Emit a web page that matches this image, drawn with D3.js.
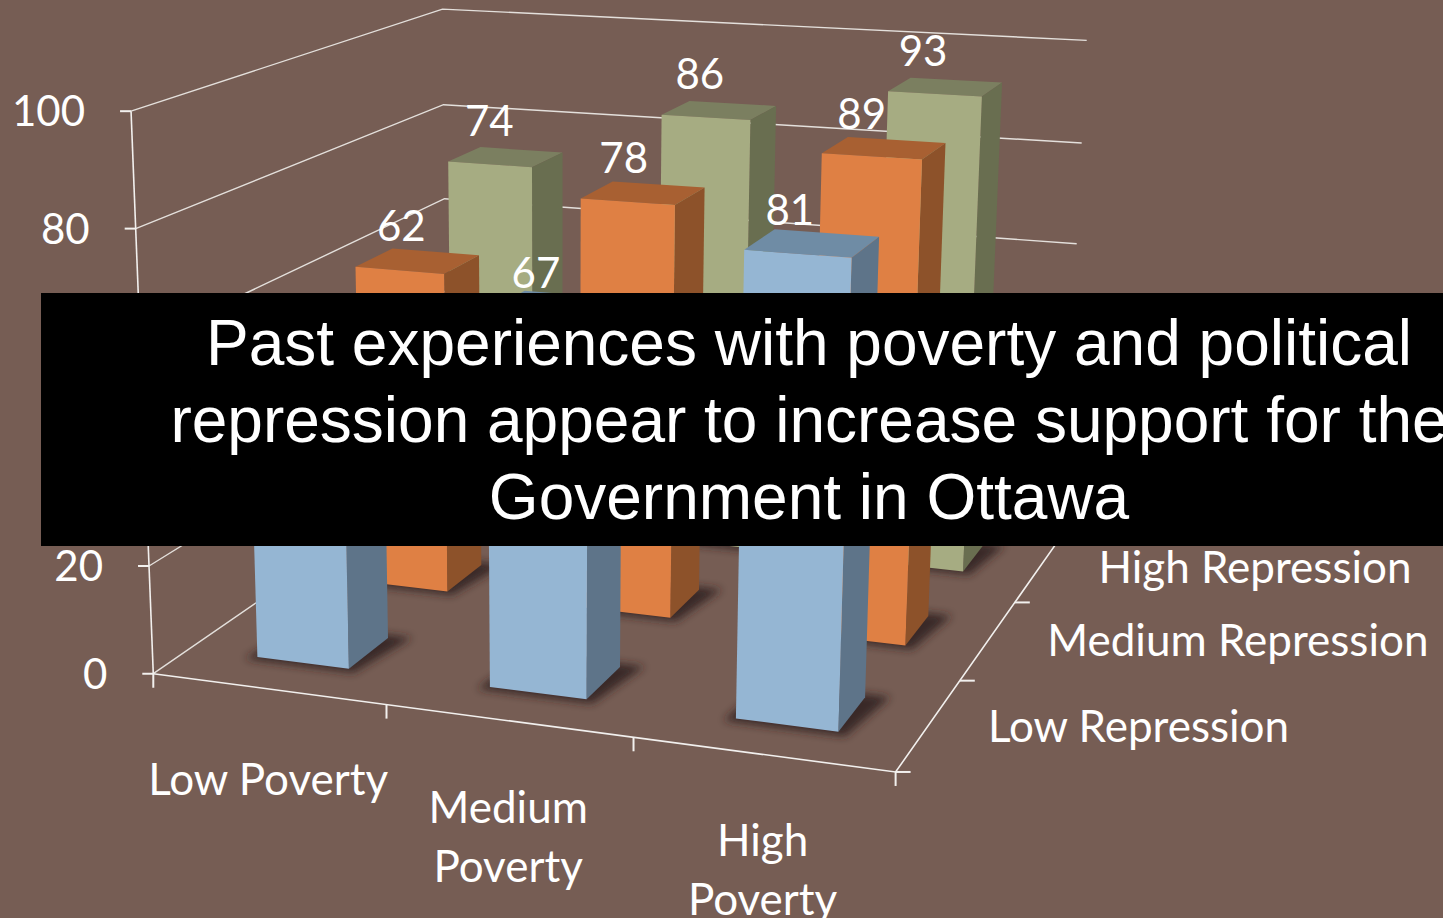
<!DOCTYPE html>
<html><head><meta charset="utf-8">
<script src="https://cdnjs.cloudflare.com/ajax/libs/d3/7.8.5/d3.min.js"></script>
<style>html,body{margin:0;padding:0;background:#765D54;overflow:hidden}svg{display:block}</style>
</head><body><svg id="c" width="1443" height="918"></svg>
<script>
const povertyLabels = ["Low Poverty","Medium Poverty","High Poverty"];
const repressionLabels = ["Low Repression","Medium Repression","High Repression"];
const lowRepression = [47,67,81];
const mediumRepression = [62,78,89];
const highRepression = [74,86,93];
const valueTicks = [0,20,40,60,80,100];
const titleLines = ["Past experiences with poverty and political","repression appear to increase support for the","Government in Ottawa"];

const W=1443,H=918;
const svg=d3.select("#c");
const seriesColors=[
 {front:"#95B6D3",side:"#5E7489",top:"#6F8CA5"},
 {front:"#DF8044",side:"#8D522A",top:"#A86032"},
 {front:"#A6AC82",side:"#696E50",top:"#7B7F60"}];

// perspective camera fitted to the chart box corners
const anchors=[[0,0,0,153,672],[1,0,0,897,772],[0,1,0,447,472],[1,1,0,1062,535],[0,0,1,130,113],[0,1,1,444,8],[1,1,1,1086,40]];
function solve(A,b){const n=b.length;const M=A.map((r,i)=>[...r,b[i]]);
 for(let i=0;i<n;i++){let p=i;for(let k=i+1;k<n;k++)if(Math.abs(M[k][i])>Math.abs(M[p][i]))p=k;[M[i],M[p]]=[M[p],M[i]];
  for(let k=0;k<n;k++){if(k===i)continue;const f=M[k][i]/M[i][i];for(let j=i;j<=n;j++)M[k][j]-=f*M[i][j];}}
 return M.map((r,i)=>r[n]/r[i]);}
const rows=[],rhs=[];
anchors.forEach(([x,y,z,sx,sy])=>{const a=sx/1000,c=sy/1000;
 rows.push([x,y,z,1,0,0,0,0,-a*x,-a*y,-a*z]);rhs.push(a);
 rows.push([0,0,0,0,x,y,z,1,-c*x,-c*y,-c*z]);rhs.push(c);});
const AtA=d3.range(11).map(i=>d3.range(11).map(j=>d3.sum(rows,r=>r[i]*r[j])));
const Atb=d3.range(11).map(i=>d3.sum(rows,(r,k)=>r[i]*rhs[k]));
const P=solve(AtA,Atb);
function proj(u,v,w){const d=P[8]*u+P[9]*v+P[10]*w+1;
 return [1000*(P[0]*u+P[1]*v+P[2]*w+P[3])/d,1000*(P[4]*u+P[5]*v+P[6]*w+P[7])/d];}

const xBand=d3.scaleBand().domain(povertyLabels).range([0,1]).paddingInner(0.6).paddingOuter(0.3);
const yBand=d3.scaleBand().domain(repressionLabels).range([0,1.01]).paddingInner(0.62).paddingOuter(0.31);
const val=d3.scaleLinear().domain([0,100]).range([0,1]);
const xStep=d3.scaleLinear().domain([0,povertyLabels.length]).range([0,1]);
const yStep=d3.scaleLinear().domain([0,repressionLabels.length]).range([0,1]);
const pts=a=>a.map(p=>p.map(n=>n.toFixed(1)).join(",")).join(" ");

svg.append("rect").attr("width",W).attr("height",H).attr("fill","#765D54");
const defs=svg.append("defs");
defs.append("filter").attr("id","blur").attr("x","-30%").attr("y","-30%").attr("width","160%").attr("height","160%")
 .append("feGaussianBlur").attr("stdDeviation",4);

// walls
const grid=svg.append("g").attr("fill","none").attr("stroke","#E4E0DC").attr("stroke-width",1.4);
valueTicks.forEach(t=>{const w=val(t);
 grid.append("polyline").attr("points",pts([proj(0,0,w),proj(0,1,w),proj(1,1,w)]));});
const axes=svg.append("g").attr("fill","none").attr("stroke","#F2F0EE").attr("stroke-width",1.6);
axes.append("line").datum([proj(0,0,0),proj(0,0,1)]).attr("x1",d=>d[0][0]).attr("y1",d=>d[0][1]).attr("x2",d=>d[1][0]).attr("y2",d=>d[1][1]);
axes.append("polyline").attr("points",pts([proj(0,0,0),proj(1,0,0),proj(1,1,0)]));
function tick(p,dx,dy){axes.append("line").attr("x1",p[0]).attr("y1",p[1]).attr("x2",p[0]+dx).attr("y2",p[1]+dy).attr("stroke-width",2);}
valueTicks.forEach(t=>tick(proj(0,0,val(t)),-11,0));
d3.range(povertyLabels.length+1).forEach(i=>tick(proj(xStep(i),0,0),0,14));
d3.range(repressionLabels.length+1).forEach(i=>tick(proj(1,yStep(i),0),15,0));

// bars, back row first
const seriesValues=[lowRepression,mediumRepression,highRepression];
const labelLayer=[];
d3.range(2,-1,-1).forEach(s=>{
 const c=seriesColors[s],v0=yBand(repressionLabels[s]),v1=v0+yBand.bandwidth();
 povertyLabels.forEach((cat,i)=>{
  const u0=xBand(cat),u1=u0+xBand.bandwidth(),w=val(seriesValues[s][i]);
  const e=0.012;
  svg.append("polygon").attr("points",pts([proj(u0-e,v0-e,0),proj(u1+e,v0-e,0),proj(u1+e*2.5,v1+e,0),proj(u0,v1+e,0)]))
    .attr("fill","#2e211d").attr("fill-opacity",0.85).attr("filter","url(#blur)");
  svg.append("polygon").attr("points",pts([proj(u0,v1,w),proj(u1,v1,w),proj(u1,v0,w),proj(u0,v0,w)])).attr("fill",c.top);
  svg.append("polygon").attr("points",pts([proj(u1,v0,0),proj(u1,v1,0),proj(u1,v1,w),proj(u1,v0,w)])).attr("fill",c.side);
  svg.append("polygon").attr("points",pts([proj(u0,v0,0),proj(u1,v0,0),proj(u1,v0,w),proj(u0,v0,w)])).attr("fill",c.front);
  const um=(u0+u1)/2,vm=(v0+v1)/2;
  labelLayer.push({p:proj(um,vm,w),u:um,v:vm,t:seriesValues[s][i]});
 });
});

const font="Lato, Carlito, sans-serif";
const txt=svg.append("g").attr("fill","#fff").attr("font-family",font).attr("font-size",42);
labelLayer.forEach(d=>txt.append("text").attr("x",d.p[0]-15-9*d.u).attr("y",d.p[1]-22+5*(1-d.v)).attr("text-anchor","middle").text(d.t));
valueTicks.forEach(t=>{const p=proj(0,0,val(t));
 txt.append("text").attr("x",p[0]-46).attr("y",p[1]+15).attr("text-anchor","end").text(t);});
const povertyNudge=[4,0,0], repressionNudge=[5,3,3];
povertyLabels.forEach((cat,i)=>{
 const p=proj(xStep(i+0.5),0,0);
 const lines=i===0?[cat]:cat.split(" ");
 lines.forEach((l,k)=>txt.append("text").attr("font-size",44).attr("x",p[0]).attr("y",p[1]+102+povertyNudge[i]+k*59).attr("text-anchor","middle").text(l));
});
repressionLabels.forEach((cat,i)=>{
 const p=proj(1,yStep(i+0.5),0);
 txt.append("text").attr("font-size",44).attr("x",p[0]+59).attr("y",p[1]+13+repressionNudge[i]).text(cat);
});

// title band
svg.append("rect").attr("x",41).attr("y",293).attr("width",W-41).attr("height",253).attr("fill","#000");
titleLines.forEach((l,i)=>svg.append("text").attr("x",809).attr("y",365+i*77).attr("text-anchor","middle")
 .attr("font-family","'Liberation Sans', Arial, sans-serif").attr("font-size",64).attr("fill","#fff").text(l));
</script></body></html>
